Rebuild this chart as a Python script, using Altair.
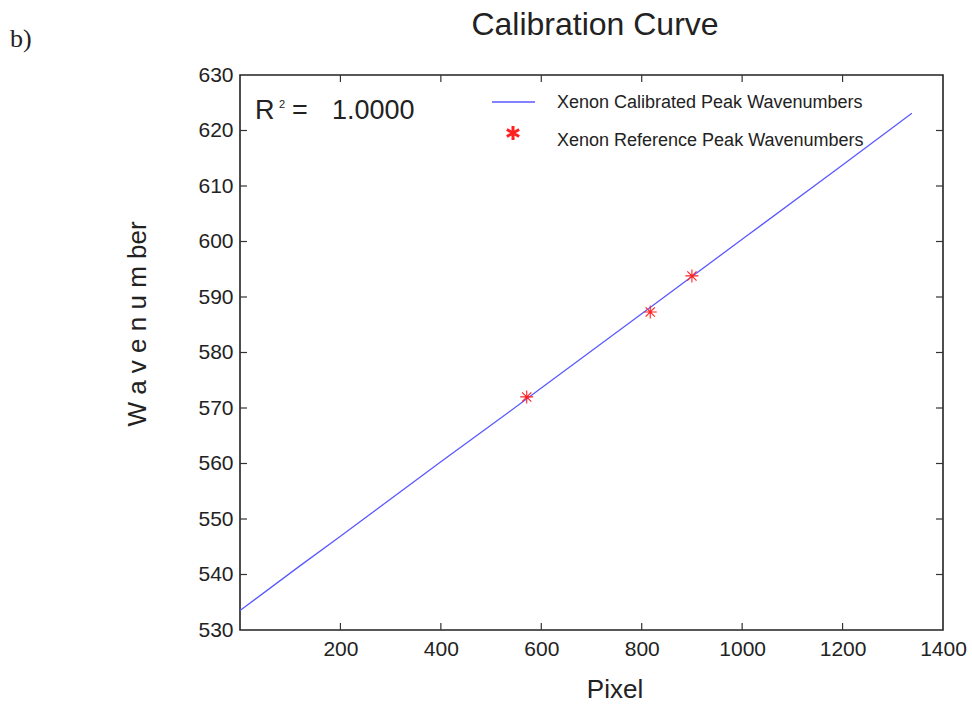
import altair as alt
import pandas as pd

# ---- data ----
line_pixel = [0, 120, 200, 400, 518, 600, 800, 1000, 1200, 1338]
line_wave = [533.5, 541.6, 546.9, 560.3, 568.1, 573.6, 587.0, 600.4, 613.8, 623.1]

star_pixel = [571, 817, 900]
star_wave = [572.0, 587.3, 593.8]

x_label_values = [200, 400, 600, 800, 1000, 1200, 1400]
y_label_values = [530, 540, 550, 560, 570, 580, 590, 600, 610, 620, 630]
x_tick_values = [200, 400, 600, 800, 1000, 1200]
y_tick_values = [540, 550, 560, 570, 580, 590, 600, 610, 620]

title_text = "Calibration Curve"
panel_text = "b)"
x_title = "Pixel"
y_title = "W a v e n u m ber"
legend_labels = ["Xenon Calibrated Peak Wavenumbers", "Xenon Reference Peak Wavenumbers"]
r2_value = "1.0000"

# ---- layout ----
W, H = 703, 555
FONT = "Liberation Sans"
TXT = "#222222"
BLUE = "#5a5aff"
RED = "#ff2020"
STAR8 = "M-1,0L1,0M0,-1L0,1M-0.71,-0.71L0.71,0.71M-0.71,0.71L0.71,-0.71"
STAR6 = "M0,-1L0,1M-0.87,-0.5L0.87,0.5M-0.87,0.5L0.87,-0.5"

xs = alt.Scale(domain=[0, 1400], nice=False, zero=False)
ys = alt.Scale(domain=[530, 630], nice=False, zero=False)

x_axis = alt.Axis(
    values=x_label_values, format="d", labelFontSize=21, labelFont=FONT,
    labelColor=TXT, domain=False, ticks=False, grid=False, title=None,
    labelPadding=8, labelFlush=False, labelOverlap=False)
y_axis = alt.Axis(
    values=y_label_values, format="d", labelFontSize=21, labelFont=FONT,
    labelColor=TXT, domain=False, ticks=False, grid=False, title=None,
    labelPadding=7, labelOverlap=False)

df_line = pd.DataFrame({"pixel": line_pixel, "wave": line_wave})
df_star = pd.DataFrame({"pixel": star_pixel, "wave": star_wave})

line = alt.Chart(df_line).mark_line(color=BLUE, strokeWidth=1.3, clip=True).encode(
    x=alt.X("pixel:Q", scale=xs, axis=x_axis),
    y=alt.Y("wave:Q", scale=ys, axis=y_axis),
)

stars = alt.Chart(df_star).mark_point(shape=STAR8, size=169, color=RED,
                                      strokeWidth=1.1, filled=False, opacity=1).encode(
    x=alt.X("pixel:Q", scale=xs, axis=x_axis),
    y=alt.Y("wave:Q", scale=ys, axis=y_axis),
)

df_xt = pd.DataFrame({"pixel": x_tick_values})
df_yt = pd.DataFrame({"wave": y_tick_values})
tick_style = dict(color="#333333", strokeWidth=1.2)
xt_bottom = alt.Chart(df_xt).mark_rule(**tick_style).encode(
    x=alt.X("pixel:Q", scale=xs, axis=x_axis), y=alt.value(H), y2=alt.value(H - 7))
xt_top = alt.Chart(df_xt).mark_rule(**tick_style).encode(
    x=alt.X("pixel:Q", scale=xs, axis=x_axis), y=alt.value(0), y2=alt.value(7))
yt_left = alt.Chart(df_yt).mark_rule(**tick_style).encode(
    y=alt.Y("wave:Q", scale=ys, axis=y_axis), x=alt.value(0), x2=alt.value(7))
yt_right = alt.Chart(df_yt).mark_rule(**tick_style).encode(
    y=alt.Y("wave:Q", scale=ys, axis=y_axis), x=alt.value(W - 7), x2=alt.value(W))


def label(text, x, y, size, font=FONT, align="left", baseline="alphabetic", **kw):
    return alt.Chart(pd.DataFrame({"t": [text]})).mark_text(
        fontSize=size, font=font, align=align, baseline=baseline, color=TXT, **kw
    ).encode(x=alt.value(x), y=alt.value(y), text="t:N")


texts = [
    label(title_text, 355, -40, 32, align="center"),
    label(panel_text, -230, -28, 26, font="Liberation Serif"),
    label(x_title, 375, 615, 26, align="center", baseline="middle"),
    label(y_title, -102, 249, 26, align="center", baseline="middle", angle=270),
    label("R", 15, 44, 27),
    label("2", 39, 33, 11),
    label("=", 52, 44, 27),
    label(r2_value, 92, 44, 27),
    label(legend_labels[0], 317, 28, 18, baseline="middle"),
    label(legend_labels[1], 317, 66, 18, baseline="middle"),
]

leg_line = alt.Chart(pd.DataFrame({"k": [legend_labels[0]]})).mark_rule(
    color=BLUE, strokeWidth=1.3).encode(
    x=alt.value(252), x2=alt.value(295), y=alt.value(27))
leg_star = alt.Chart(pd.DataFrame({"k": [legend_labels[1]]})).mark_point(
    shape=STAR6, size=200, color=RED, strokeWidth=3, filled=False, opacity=1).encode(
    x=alt.value(273), y=alt.value(58))

chart = alt.layer(
    line, stars, xt_bottom, xt_top, yt_left, yt_right, leg_line, leg_star, *texts
).properties(
    width=W, height=H,
    autosize=alt.AutoSizeParams(type="none"),
    padding={"left": 240, "top": 75, "right": 29, "bottom": 74},
    background="white",
).configure_view(stroke="#222222", strokeWidth=1.6)

chart.save("out.html", embed_options={"renderer": "svg", "actions": False})
